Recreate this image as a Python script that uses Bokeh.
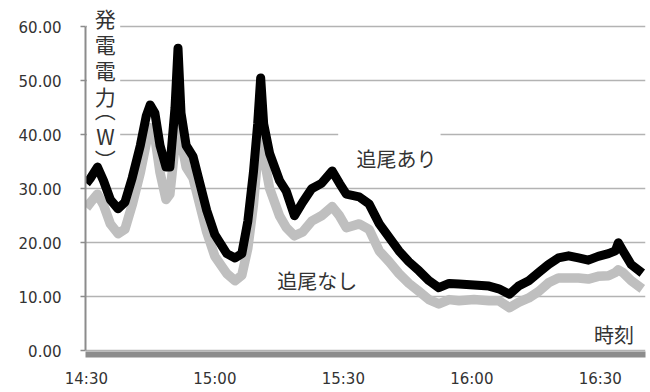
from bokeh.plotting import figure
from bokeh.models import Range1d, FixedTicker, PrintfTickFormatter, Label, BoxAnnotation
from bokeh.embed import file_html
from bokeh.resources import INLINE

# minutes after 14:30
minutes = [0, 1, 2.6, 4, 5.6, 7.4, 9, 10.7, 12.6, 14, 14.9, 16, 17.2, 18.6, 19.5, 20.7, 21.4,
           22.1, 23.3, 24.9, 26.5, 28.1, 30, 32.8, 34.7, 36.3, 37.7, 39, 40, 40.7, 41.4, 42.8,
           45.1, 46.7, 48.6, 50.5, 52.6, 54.9, 57.4, 59.1, 60.7, 63.7, 66, 68.4, 70.7, 73, 75.3,
           77.7, 80, 82.3, 84.7, 87, 90.5, 94, 96.3, 98.8, 100.9, 103.3, 105.6, 107.9, 110.2,
           112.6, 114.9, 117.2, 119.5, 121.9, 123.5, 124.2, 125.3, 127.2, 129.8]
tracking = [31, 32, 34, 31.5, 28, 26.3, 27.5, 32, 38, 43.5, 45.5, 44, 38, 34, 34, 45, 56,
            44, 38, 36, 31, 26, 21.5, 18, 17.2, 18, 24, 33, 42, 50.5, 42, 36.5,
            31.5, 29.5, 25, 27.5, 30, 31, 33.3, 31, 29, 28.5, 27.2, 23.5, 21, 18.5, 16.5,
            14.8, 13, 11.7, 12.5, 12.4, 12.2, 12, 11.5, 10.5, 12, 13, 14.5, 16, 17.2,
            17.6, 17.2, 16.8, 17.5, 18, 18.5, 20, 18.5, 16, 14.4]
fixed = [26.5, 27.5, 29, 27, 23.5, 21.7, 22.5, 27, 33, 38.5, 41.3, 39.5, 33, 28, 29, 38, 48,
         39, 34, 32, 27, 22, 17.5, 14.3, 13, 14, 19, 27, 36, 42, 36, 30,
         25, 22.8, 21.3, 22, 24, 25, 26.7, 25, 22.8, 23.5, 22.5, 18.5, 16.5, 14.3, 12.5,
         11, 9.5, 8.7, 9.5, 9.3, 9.5, 9.3, 9.3, 8, 9, 9.8, 11, 12.6, 13.5,
         13.5, 13.5, 13.3, 13.8, 13.9, 14.5, 15, 14.5, 13, 11.5]

x_ticks = [0, 30, 60, 90, 120]
x_tick_labels = ["14:30", "15:00", "15:30", "16:00", "16:30"]
y_ticks = [0, 10, 20, 30, 40, 50, 60]

series_labels = ["追尾あり", "追尾なし"]
y_title_chars = ["発", "電", "電", "力", "︵", "W", "︶"]
x_title = "時刻"

FONT = "DejaVu Sans"
JP = "Noto Sans CJK JP"
TXT = "#333333"

p = figure(width=650, height=392, output_backend="svg", toolbar_location=None,
           x_range=Range1d(-0.2, 130.55), y_range=Range1d(-0.65, 64.81),
           min_border_left=85, min_border_right=5, min_border_top=0, min_border_bottom=38)
p.outline_line_color = None
p.background_fill_color = "white"

p.xgrid.grid_line_color = None
p.ygrid.ticker = FixedTicker(ticks=y_ticks)
p.ygrid.grid_line_color = "#b3b3b3"
p.ygrid.grid_line_width = 1.5

p.yaxis.ticker = FixedTicker(ticks=y_ticks)
p.yaxis.bounds = (0, 60)
p.yaxis.formatter = PrintfTickFormatter(format="%.2f")
p.yaxis.axis_line_color = "#8c8c8c"
p.yaxis.axis_line_width = 2
p.yaxis.major_tick_line_color = "#8c8c8c"
p.yaxis.major_tick_line_width = 1.5
p.yaxis.major_tick_out = 5
p.yaxis.major_tick_in = 0
p.yaxis.minor_tick_line_color = None
p.yaxis.major_label_standoff = 19
p.yaxis.major_label_text_font = FONT
p.yaxis.major_label_text_font_size = "15px"
p.yaxis.major_label_text_color = TXT

p.xaxis.ticker = FixedTicker(ticks=x_ticks)
p.xaxis.major_label_overrides = {t: l for t, l in zip(x_ticks, x_tick_labels)}
p.xaxis.axis_line_color = "#8c8c8c"
p.xaxis.axis_line_width = 6
p.xaxis.major_tick_line_color = None
p.xaxis.minor_tick_line_color = None
p.xaxis.major_tick_out = 0
p.xaxis.major_label_standoff = 15
p.xaxis.major_label_text_font = FONT
p.xaxis.major_label_text_font_size = "15px"
p.xaxis.major_label_text_color = TXT

p.line(minutes, fixed, line_color="#bfbfbf", line_width=9.5, line_join="round")
p.line(minutes, tracking, line_color="#000000", line_width=9, line_join="round")

# white boxes behind text (gridline gaps)
p.add_layout(BoxAnnotation(left=0.15, right=7.9, bottom=38.0, top=61, fill_color="white",
                           fill_alpha=1, line_alpha=0))
p.add_layout(BoxAnnotation(left=58.8, right=82.7, bottom=39.4, top=40.6, fill_color="white",
                           fill_alpha=1, line_alpha=0))

title_y = [61.5, 56.85, 52.05, 47.2, 44.8, 39.8, 35.55]
for ch, yy in zip(y_title_chars, title_y):
    p.add_layout(Label(x=4.44, y=yy, text=ch, text_font=JP, text_font_size="21px",
                       text_color=TXT, text_align="center", text_baseline="middle"))

p.add_layout(Label(x=72.4, y=35.6, text=series_labels[0], text_font=JP, text_font_size="20px",
                   text_color=TXT, text_align="center", text_baseline="middle"))
p.add_layout(Label(x=53.9, y=13.1, text=series_labels[1], text_font=JP, text_font_size="20px",
                   text_color=TXT, text_align="center", text_baseline="middle"))
p.add_layout(Label(x=123.2, y=3.05, text=x_title, text_font=JP, text_font_size="20px",
                   text_color=TXT, text_align="center", text_baseline="middle"))

open("out.html", "w").write(file_html(p, INLINE))
